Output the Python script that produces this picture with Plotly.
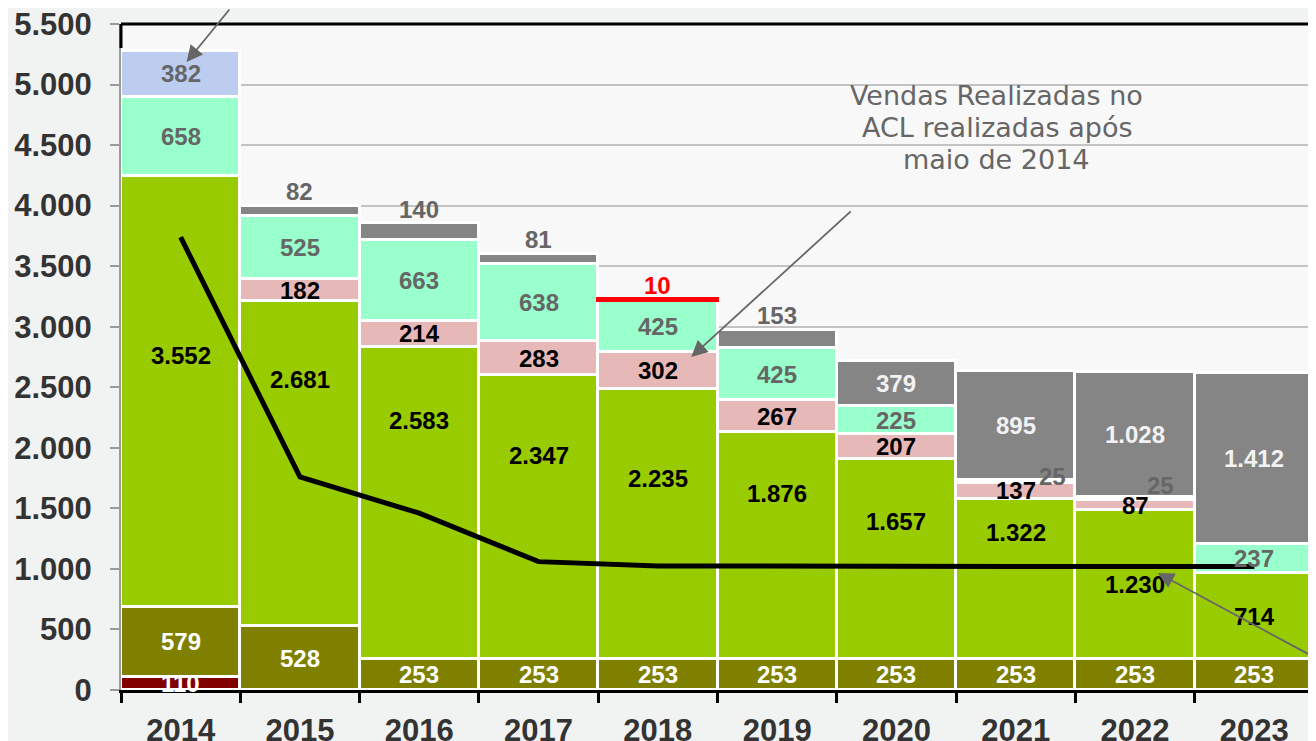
import plotly.graph_objects as go

# ---------------- data ----------------
years = ["2014", "2015", "2016", "2017", "2018", "2019", "2020", "2021", "2022", "2023"]
darkred = [110, None, None, None, None, None, None, None, None, None]
olive = [579, 528, 253, 253, 253, 253, 253, 253, 253, 253]
green = [3552, 2681, 2583, 2347, 2235, 1876, 1657, 1322, 1230, 714]
pink = [None, 182, 214, 283, 302, 267, 207, 137, 87, None]
aqua = [658, 525, 663, 638, 425, 425, 225, 25, 25, 237]
top = [382, 82, 140, 81, 10, 153, 379, 895, 1028, 1412]
line_vals = [3740, 1760, 1460, 1060, 1025, 1020, 1020, 1020, 1020, 1020]
y_ticks = [0, 500, 1000, 1500, 2000, 2500, 3000, 3500, 4000, 4500, 5000, 5500]
note_lines = ["Vendas Realizadas no", "ACL realizadas após", "maio de 2014"]

# ---------------- styles ----------------
C_DARKRED = "#800000"
C_OLIVE = "#808000"
C_GREEN = "#99cc00"
C_PINK = "#e6b9b8"
C_AQUA = "#99ffcc"
C_GRAY = "#858585"
C_BLUE = "#bccdef"
C_RED = "#ff0000"
top_colors = [C_BLUE] + [C_GRAY] * 3 + [C_RED] + [C_GRAY] * 5
top_line_colors = ["white"] * 4 + [C_RED] + ["white"] * 5
green_label_lift = [36, 84, 82, 62, 46, 52, 38, 47, 0, 0]  # px, label placement tweak
LABEL_FONT = "Liberation Sans, Arial, sans-serif"
LSIZE = 24


def fmt(v):
    return f"{v:,}".replace(",", ".")


fig = go.Figure()


def add_bar(vals, color, line_color="white"):
    fig.add_trace(go.Bar(
        x=years, y=vals,
        marker=dict(color=color, line=dict(color=line_color, width=3)),
        hoverinfo="skip",
    ))


add_bar(darkred, C_DARKRED)
add_bar(olive, C_OLIVE)
add_bar(green, C_GREEN)
add_bar(pink, C_PINK)
add_bar(aqua, C_AQUA)
add_bar(top, top_colors, top_line_colors)

fig.add_trace(go.Scatter(
    x=years, y=line_vals, mode="lines",
    line=dict(color="black", width=5),
    hoverinfo="skip",
))

# ---------------- labels ----------------
ann = []


def label(i, y, text, color, xshift=0, yshift=0):
    ann.append(dict(
        x=i, y=y, xref="x", yref="y", text="<b>" + text + "</b>", showarrow=False,
        xshift=xshift, yshift=yshift,
        font=dict(family=LABEL_FONT, size=LSIZE, color=color),
    ))


layers = [darkred, olive, green, pink, aqua, top]
base = [0] * len(years)
for li, layer in enumerate(layers):
    for i, v in enumerate(layer):
        if v is None:
            continue
        b = base[i]
        mid = b + v / 2
        if li in (0, 1):
            label(i, mid, fmt(v), "white")
        elif li == 2:
            label(i, mid, fmt(v), "black", yshift=green_label_lift[i])
        elif li == 3:
            label(i, mid, fmt(v), "black")
        elif li == 4:
            if v < 50:
                xs = 37 if years[i] == "2021" else 25
                ys = 5 if years[i] == "2021" else 13
                label(i, mid, fmt(v), "#666666", xshift=xs, yshift=ys)
            else:
                label(i, mid, fmt(v), "#666666")
        else:
            if i == 0:
                label(i, mid, fmt(v), "#666666")
            elif v < 200:
                col = C_RED if top_colors[i] == C_RED else "#666666"
                label(i, b + v, fmt(v), col, yshift=14)
            else:
                label(i, mid, fmt(v), "#f2f2f2")
        base[i] = b + v

# arrows
arrow_style = dict(showarrow=True, arrowhead=2, arrowsize=1.8, arrowwidth=1.8,
                   arrowcolor="#666666", text="", standoff=0, xref="x", yref="y")
ann.append(dict(x=0.05, y=5186, ax=44, ay=-70, **arrow_style))
ann.append(dict(x=4.28, y=2750, ax=161, ay=-147, **arrow_style))
ann.append(dict(x=8.19, y=966, ax=158, ay=85, **arrow_style))

# note text, one annotation per line for tight line spacing
for k, txt in enumerate(note_lines):
    ann.append(dict(
        x=0.734, y=0.892 - k * 0.0475, xref="paper", yref="paper", showarrow=False,
        xanchor="center", yanchor="middle",
        text=txt,
        font=dict(family="DejaVu Sans, Verdana, sans-serif", size=27, color="#666666"),
    ))

# the page body adds an 8px offset; compensate so the plot lands at the reference pixels
fig.update_layout(
    width=1308, height=733,
    margin=dict(l=113, r=2, t=16, b=51),
    barmode="stack", bargap=0,
    showlegend=False,
    paper_bgcolor="#f1f2f2",
    plot_bgcolor="#f8f8f8",
    separators=",.",
    annotations=ann,
    shapes=[
        dict(type="line", xref="paper", yref="paper", x0=0, x1=1, y0=1, y1=1,
             line=dict(color="black", width=3)),
        dict(type="line", xref="paper", yref="paper", x0=1, x1=1, y0=0, y1=1,
             line=dict(color="black", width=3)),
        dict(type="line", xref="paper", yref="paper", x0=0, x1=0, y0=1, y1=0.964,
             line=dict(color="black", width=3)),
    ],
)

fig.update_xaxes(
    type="category", range=[-0.5, 9.5], automargin=False,
    tickson="boundaries", ticks="outside", ticklen=10, tickwidth=3, tickcolor="black",
    showline=True, linecolor="black", linewidth=3,
    showgrid=False,
    tickfont=dict(family=LABEL_FONT, size=31, color="#333333", weight="bold"),
    ticklabelstandoff=11, ticklabeloverflow="allow",
)
fig.update_yaxes(
    range=[0, 5500], tickvals=y_ticks, tickformat=",.0f", automargin=False,
    showgrid=True, gridcolor="#c3c3c3", gridwidth=2,
    zeroline=False,
    showline=True, linecolor="#9a9a9a", linewidth=2,
    ticks="outside", ticklen=9, tickwidth=2, tickcolor="#9a9a9a",
    tickfont=dict(family=LABEL_FONT, size=31, color="#333333", weight="bold"),
    ticklabelstandoff=12, ticklabeloverflow="allow",
)

fig.write_html("out.html")
